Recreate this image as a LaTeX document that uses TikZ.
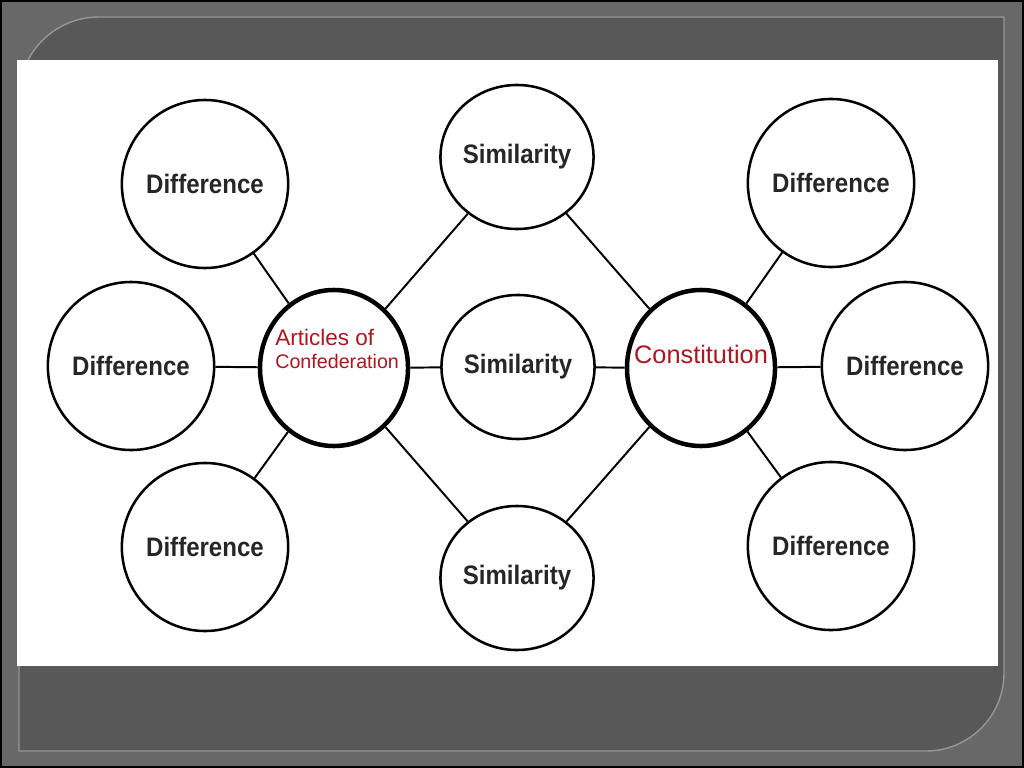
\documentclass[tikz,border=0pt]{standalone}
\usepackage{fontspec}
\setmainfont{Liberation Sans}
\newfontfamily\narrowsans[FakeStretch=0.9]{Liberation Sans}
\usepackage{xcolor}
\usetikzlibrary{shapes.geometric}
\definecolor{bgGray}{RGB}{104,104,104}
\definecolor{panelGray}{RGB}{88,88,88}
\definecolor{rimGray}{RGB}{150,150,150}
\definecolor{titleRed}{RGB}{172,22,32}

\begin{document}
\begin{tikzpicture}[x=0.025cm,y=-0.025cm,
  bubble/.style={ellipse, draw, line width=1.8pt, fill=white, inner sep=0pt,
    font=\narrowsans\bfseries\fontsize{19}{22}\selectfont, text=black!85},
  diff/.style={bubble, minimum width=4cm, minimum height=4.2cm},
  sim/.style={bubble, minimum width=3.35cm, minimum height=3.6cm},
  hub/.style={bubble, line width=3.2pt, minimum width=3.7cm, minimum height=3.9cm},
  hubtext/.style={text=titleRed, inner sep=0pt},
  link/.style={line width=1.4pt}]
\useasboundingbox (0,0) rectangle (1024,768);

 %frame:
 \fill[bgGray] (0,0) rectangle (1024,768);
 \draw[black, line width=1.5pt] (0.5,0.5) rectangle (1023.5,767.5);
 \draw[fill=panelGray, draw=rimGray, line width=1pt]
   (19,97) arc (180:270:80) -- (1004,17) -- (1004,673) arc (0:90:78) -- (19,751) -- cycle;
 \fill[white] (17,60) rectangle (998,666);

 %hubs:
 \node[hub] (art) at (334,368) {};
 \node[hubtext, anchor=base west, font=\fontsize{16}{19}\selectfont] (artlbl1) at (275,345) {Articles of};
 \node[hubtext, anchor=base west, font=\fontsize{14}{17}\selectfont] (artlbl2) at (275,368) {Confederation};
 \node[hub] (con) at (701,368) {};
 \node[hubtext, font=\fontsize{18}{21}\selectfont] (conlbl) at (701,354) {Constitution};

 %similarities:
 \node[sim] (sim1) at (517,157) {Similarity};
 \node[sim] (sim2) at (518,367) {Similarity};
 \node[sim] (sim3) at (517,578) {Similarity};

 %differences:
 \node[diff] (dl1) at (205,184) {Difference};
 \node[diff] (dl2) at (131,366) {Difference};
 \node[diff] (dl3) at (205,547) {Difference};
 \node[diff] (dr1) at (831,183) {Difference};
 \node[diff] (dr2) at (905,366) {Difference};
 \node[diff] (dr3) at (831,546) {Difference};

 %links:
 \foreach \a/\b in {art/dl1, art/dl2, art/dl3, art/sim1, art/sim2, art/sim3,
                    con/dr1, con/dr2, con/dr3, con/sim1, con/sim2, con/sim3}
   \draw[link] (\a) -- (\b);
\end{tikzpicture}
\end{document}
